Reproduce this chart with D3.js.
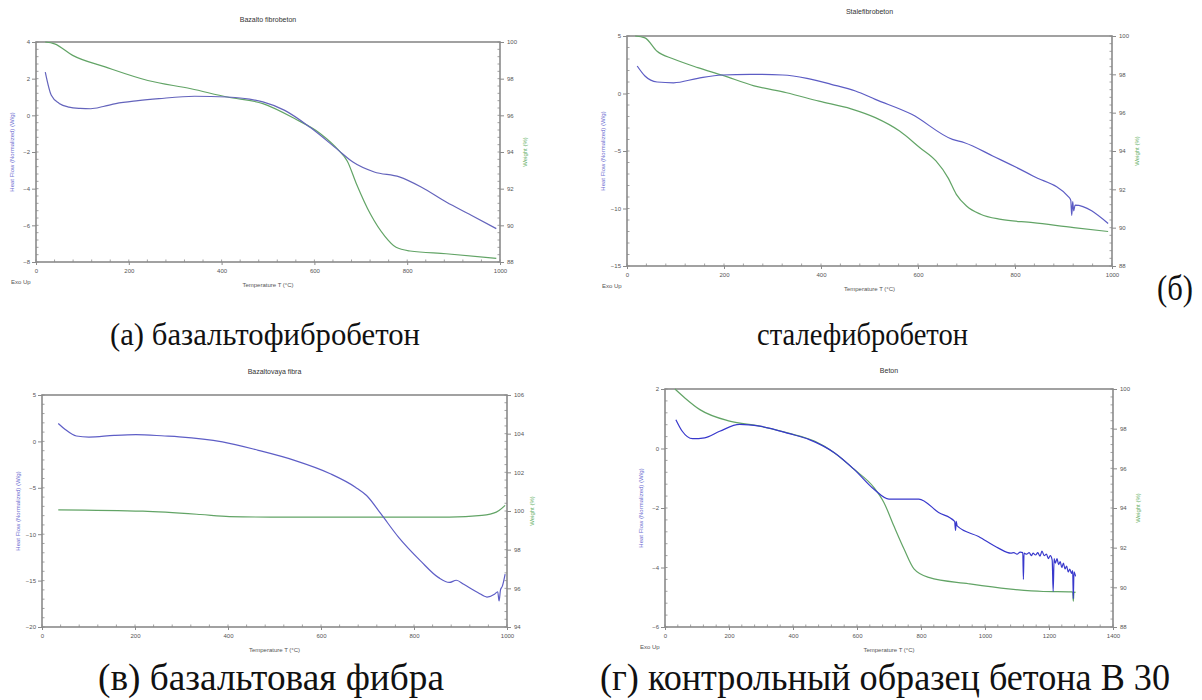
<!DOCTYPE html>
<html>
<head>
<meta charset="utf-8">
<script src="https://cdn.jsdelivr.net/npm/d3@7"></script>
<style>
  body { margin: 0; background: #fff; }
</style>
</head>
<body>
<svg id="fig" width="1202" height="700"></svg>
<script>
// ---- (а) базальтофибробетон ----
const dscTempA = [20, 33, 50, 71, 95, 118, 145, 172, 220, 265, 342, 412, 489, 536, 590, 652, 683, 729, 783, 830, 884, 938, 992];
const dscA     = [2.36, 1.09, 0.65, 0.45, 0.38, 0.36, 0.48, 0.64, 0.80, 0.91, 1.04, 1.00, 0.73, 0.27, -0.64, -1.91, -2.55, -3.09, -3.36, -3.91, -4.73, -5.45, -6.18];
const tgTempA  = [20, 40, 79, 149, 241, 334, 412, 489, 559, 613, 652, 671, 690, 721, 752, 776, 806, 884, 992];
const tgA      = [100, 99.9, 99.27, 98.64, 97.9, 97.45, 97.0, 96.64, 95.8, 95.0, 94.1, 93.5, 92.3, 90.6, 89.4, 88.8, 88.6, 88.45, 88.2];

// ---- (б) сталефибробетон ----
const dscTempB = [21, 37, 62, 96, 146, 196, 254, 321, 371, 421, 471, 512, 587, 671, 696, 754, 837, 912, 915, 917, 919, 921, 924, 992];
const dscB     = [2.39, 1.52, 1.0, 0.93, 1.32, 1.61, 1.67, 1.61, 1.32, 0.80, 0.22, -0.51, -1.81, -3.99, -4.28, -5.43, -7.17, -9.06, -9.3, -10.6, -9.4, -10.2, -9.7, -11.3];
const tgTempB  = [17, 37, 62, 96, 146, 196, 262, 329, 396, 462, 512, 562, 604, 637, 662, 679, 700, 729, 771, 837, 921, 992];
const tgB      = [100, 99.9, 99.2, 98.8, 98.35, 97.96, 97.4, 97.04, 96.6, 96.2, 95.74, 95.04, 94.17, 93.48, 92.6, 91.74, 91.13, 90.7, 90.43, 90.26, 90.0, 89.8];

// ---- (в) базальтовая фибра ----
const dscTempC = [35, 50, 74, 101, 155, 202, 264, 295, 388, 465, 543, 620, 674, 698, 729, 767, 814, 853, 876, 891, 907, 938, 957, 973, 980, 983, 986, 990, 996];
const dscC     = [1.93, 1.28, 0.58, 0.47, 0.65, 0.73, 0.58, 0.49, -0.05, -0.96, -2.04, -3.48, -4.93, -5.83, -7.82, -10.34, -12.87, -14.68, -15.2, -14.96, -15.4, -16.3, -16.77, -16.48, -16.2, -17.2, -16.0, -15.6, -14.3];
const tgTempC  = [35, 217, 341, 403, 527, 760, 876, 946, 977, 996];
const tgC      = [100.06, 99.99, 99.82, 99.71, 99.68, 99.68, 99.68, 99.77, 99.94, 100.29];

// ---- (г) контрольный образец бетона В 30 ----
const dscTempD = [34, 54, 86, 124, 171, 233, 296, 389, 451, 529, 591, 653, 700, 762, 793, 855, 905, 908, 910, 913, 980, 1042, 1081,
                  1090, 1100, 1110, 1118, 1120, 1122, 1130, 1138, 1145, 1150, 1158, 1165, 1172, 1178, 1185, 1192, 1198, 1204,
                  1210, 1213, 1216, 1220, 1225, 1230, 1235, 1240, 1245, 1250, 1255, 1260, 1265, 1270, 1274, 1276, 1278, 1283];
const dscD     = [0.97, 0.58, 0.33, 0.36, 0.58, 0.81, 0.75, 0.50, 0.30, -0.14, -0.70, -1.37, -1.70, -1.70, -1.70, -2.15, -2.45, -2.75, -2.45, -2.6, -2.96, -3.35, -3.52,
                  -3.50, -3.55, -3.48, -3.50, -4.40, -3.52, -3.55, -3.50, -3.60, -3.52, -3.58, -3.50, -3.62, -3.45, -3.60, -3.55, -3.70, -3.60,
                  -3.75, -4.80, -3.70, -3.85, -3.70, -3.90, -3.80, -4.00, -3.85, -4.05, -3.95, -4.15, -4.05, -4.20, -4.10, -5.05, -4.15, -4.30];
const tgTempD  = [31, 62, 109, 202, 296, 389, 467, 529, 591, 653, 684, 715, 747, 778, 824, 949, 1073, 1182, 1270, 1274, 1276, 1278, 1283];
const tgD      = [100, 99.55, 98.96, 98.38, 98.13, 97.76, 97.37, 96.79, 95.95, 95.03, 94.28, 93.1, 91.93, 90.93, 90.5, 90.18, 89.92, 89.79, 89.77, 89.76, 89.3, 89.76, 89.75];

// ---- axis ticks and texts ----
const xTicks1000 = [0, 200, 400, 600, 800, 1000];
const xTicks1400 = [0, 200, 400, 600, 800, 1000, 1200, 1400];
const hfTicksA = [4, 2, 0, -2, -4, -6, -8];
const hfTicksB = [5, 0, -5, -10, -15];
const hfTicksC = [5, 0, -5, -10, -15, -20];
const hfTicksD = [2, 0, -2, -4, -6];
const tgTicks88 = [100, 98, 96, 94, 92, 90, 88];
const tgTicksC  = [106, 104, 102, 100, 98, 96, 94];
const chartTitles = ["Bazalto fibrobeton", "Stalefibrobeton", "Bazaltovaya fibra", "Beton"];
const captions = ["(а) базальтофибробетон", "сталефибробетон", "(б)", "(в) базальтовая фибра", "(г) контрольный образец бетона В 30"];
const leftAxisLabel = "Heat Flow (Normalized) (W/g)";
const rightAxisLabel = "Weight (%)";
const xAxisLabel = "Temperature T (°C)";
const exoLabel = "Exo Up";

const svg = d3.select("#fig");
const sans = "'Liberation Sans', Arial, sans-serif";
const serif = "'Liberation Serif', 'Times New Roman', serif";
const axisGrey = "#8a8a8a";
const textGrey = "#555";

function zip(xs, ys) { return xs.map((x, i) => [x, ys[i]]); }

function drawPanel(p) {
  const g = svg.append("g").style("font-family", sans);
  const x = d3.scaleLinear().domain(p.xDomain).range([p.left, p.right]);
  const yL = d3.scaleLinear().domain(d3.extent(p.hfTicks)).range([p.bottom, p.top]);
  const yR = d3.scaleLinear().domain(d3.extent(p.tgTicks)).range([p.bottom, p.top]);

  // frame
  g.append("rect").attr("x", p.left).attr("y", p.top)
    .attr("width", p.right - p.left).attr("height", p.bottom - p.top)
    .attr("fill", "none").attr("stroke", axisGrey).attr("stroke-width", 1.6);

  const fmt = d => d3.format("")(d).replace("-", "−");

  // bottom axis
  const xStep = p.xTicks[1] - p.xTicks[0];
  const gx = g.append("g").attr("transform", `translate(0,${p.bottom})`)
    .call(d3.axisBottom(x).tickValues(p.xTicks).tickSize(3).tickPadding(4).tickFormat(d3.format("")));
  const xMinor = d3.range(p.xDomain[0], p.xDomain[1] + 1, xStep / 5);
  g.append("g").selectAll("line").data(xMinor).join("line")
    .attr("x1", d => x(d)).attr("x2", d => x(d))
    .attr("y1", p.bottom).attr("y2", p.bottom - 2.5)
    .attr("stroke", axisGrey).attr("stroke-width", 0.8);

  // left axis
  const yStepL = Math.abs(p.hfTicks[1] - p.hfTicks[0]);
  const gl = g.append("g").attr("transform", `translate(${p.left},0)`)
    .call(d3.axisLeft(yL).tickValues(p.hfTicks).tickSize(4).tickPadding(2).tickFormat(fmt));
  const lMinor = d3.range(yL.domain()[0], yL.domain()[1] + 1e-9, yStepL / 5);
  g.append("g").selectAll("line").data(lMinor).join("line")
    .attr("x1", p.left).attr("x2", p.left + 2.5)
    .attr("y1", d => yL(d)).attr("y2", d => yL(d))
    .attr("stroke", axisGrey).attr("stroke-width", 0.8);

  // right axis
  const yStepR = Math.abs(p.tgTicks[1] - p.tgTicks[0]);
  const gr = g.append("g").attr("transform", `translate(${p.right},0)`)
    .call(d3.axisRight(yR).tickValues(p.tgTicks).tickSize(4).tickPadding(3).tickFormat(d3.format("")));
  const rMinor = d3.range(yR.domain()[0], yR.domain()[1] + 1e-9, yStepR / 5);
  g.append("g").selectAll("line").data(rMinor).join("line")
    .attr("x1", p.right).attr("x2", p.right - 2.5)
    .attr("y1", d => yR(d)).attr("y2", d => yR(d))
    .attr("stroke", axisGrey).attr("stroke-width", 0.8);

  [gx, gl, gr].forEach(a => {
    a.select(".domain").remove();
    a.selectAll(".tick line").attr("stroke", axisGrey).attr("stroke-width", 1);
    a.selectAll(".tick text").attr("fill", textGrey).style("font-size", "6px").style("font-family", sans);
  });

  // title
  g.append("text").attr("x", (p.left + p.right) / 2).attr("y", p.top - p.titleGap)
    .attr("text-anchor", "middle").attr("fill", "#333").style("font-size", "7px")
    .text(p.title);

  // axis labels
  g.append("text")
    .attr("transform", `translate(${p.left - 22},${(p.top + p.bottom) / 2}) rotate(-90)`)
    .attr("text-anchor", "middle").attr("fill", "#6c6cd0").style("font-size", "6px")
    .text(leftAxisLabel);
  g.append("text")
    .attr("transform", `translate(${p.right + 27},${(p.top + p.bottom) / 2}) rotate(-90)`)
    .attr("text-anchor", "middle").attr("fill", "#66b066").style("font-size", "6px")
    .text(rightAxisLabel);
  g.append("text").attr("x", (p.left + p.right) / 2).attr("y", p.bottom + 25)
    .attr("text-anchor", "middle").attr("fill", textGrey).style("font-size", "6px")
    .text(xAxisLabel);
  if (p.exo) {
    g.append("text").attr("x", p.left - 25).attr("y", p.bottom + 22)
      .attr("fill", textGrey).style("font-size", "6px").text(exoLabel);
  }

  // curves
  const lineL = d3.line().x(d => x(d[0])).y(d => yL(d[1])).curve(d3.curveMonotoneX);
  const lineR = d3.line().x(d => x(d[0])).y(d => yR(d[1])).curve(d3.curveMonotoneX);
  g.append("path").datum(zip(p.tgT, p.tg)).attr("d", lineR)
    .attr("fill", "none").attr("stroke", "#62a466").attr("stroke-width", 1.2);
  g.append("path").datum(zip(p.dscT, p.dsc)).attr("d", lineL)
    .attr("fill", "none").attr("stroke", p.blue).attr("stroke-width", 1.2);
}

const panels = [
  { left: 36, right: 500, top: 42, bottom: 262, xDomain: [0, 1000], xTicks: xTicks1000,
    hfTicks: hfTicksA, tgTicks: tgTicks88, title: chartTitles[0], titleGap: 20, exo: true,
    dscT: dscTempA, dsc: dscA, tgT: tgTempA, tg: tgA, blue: "#6464bc" },
  { left: 627, right: 1112, top: 36, bottom: 266, xDomain: [0, 1000], xTicks: xTicks1000,
    hfTicks: hfTicksB, tgTicks: tgTicks88, title: chartTitles[1], titleGap: 22, exo: true,
    dscT: dscTempB, dsc: dscB, tgT: tgTempB, tg: tgB, blue: "#5c5cc4" },
  { left: 42, right: 507, top: 395, bottom: 627, xDomain: [0, 1000], xTicks: xTicks1000,
    hfTicks: hfTicksC, tgTicks: tgTicksC, title: chartTitles[2], titleGap: 21, exo: false,
    dscT: dscTempC, dsc: dscC, tgT: tgTempC, tg: tgC, blue: "#5e5ec6" },
  { left: 665, right: 1113, top: 389, bottom: 627, xDomain: [0, 1400], xTicks: xTicks1400,
    hfTicks: hfTicksD, tgTicks: tgTicks88, title: chartTitles[3], titleGap: 16, exo: true,
    dscT: dscTempD, dsc: dscD, tgT: tgTempD, tg: tgD, blue: "#3838cc" }
];
panels.forEach(drawPanel);

// captions beneath each chart: [x, baseline, width, font size]
const capBox = [[110, 345, 310, 32], [757, 345, 211, 32], [1157, 300, 36, 35], [98, 690, 346, 37], [600, 690, 570, 37]];
captions.forEach((c, i) => {
  const [cx, cy, w, fs] = capBox[i];
  svg.append("text")
    .attr("x", cx).attr("y", cy)
    .attr("textLength", w).attr("lengthAdjust", "spacingAndGlyphs")
    .style("font-family", serif).style("font-size", fs + "px").attr("fill", "#111")
    .text(c);
});
</script>
</body>
</html>
